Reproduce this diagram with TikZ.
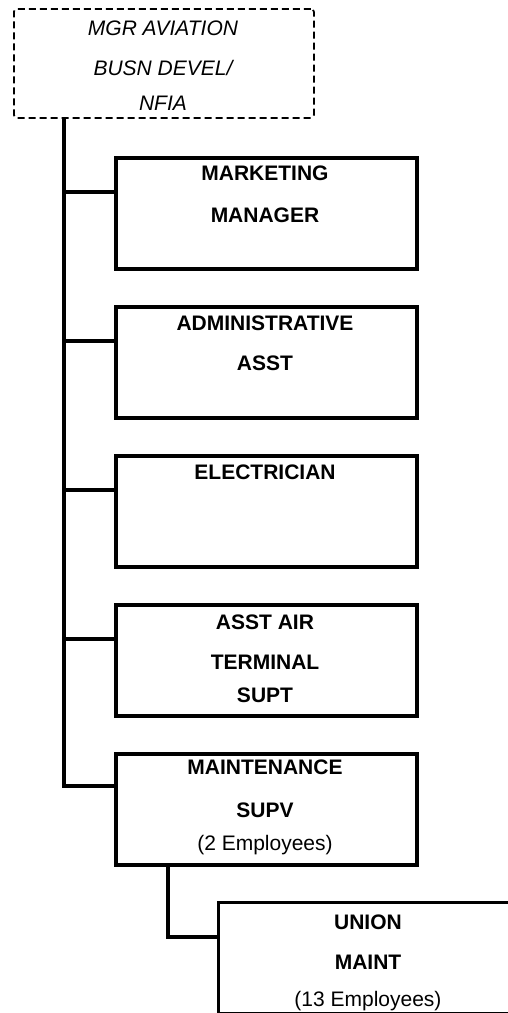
\documentclass[tikz,border=0pt]{standalone}
\usepackage{fontspec}
\setmainfont{Liberation Sans}
\begin{document}
\begin{tikzpicture}[x=1pt,y=-1pt,
  box/.style={draw, line width=3.6pt, minimum width=301pt, minimum height=111pt, inner sep=0pt, anchor=north west},
  topbox/.style={draw, line width=1.8pt, dash pattern=on 7pt off 4pt, rounded corners=3pt, minimum width=300pt, minimum height=109pt, inner sep=0pt, anchor=north west},
  conn/.style={draw, line width=3.6pt, line cap=rect},
  lb/.style={font=\fontsize{21}{21}\selectfont\bfseries, anchor=base, inner sep=0pt},
  lr/.style={font=\fontsize{21}{21}\selectfont, anchor=base, inner sep=0pt},
  li/.style={font=\fontsize{21}{21}\selectfont\itshape, anchor=base, inner sep=0pt}]
\useasboundingbox (0,0) rectangle (508,1013);
\clip (0,0) rectangle (508,1013);
\fill[white] (0,0) rectangle (508,1013);
% boxes
\node[topbox] (mgr) at (13,8) {};
\node[box] (mkt) at (114,156) {};
\node[box] (adm) at (114,305) {};
\node[box] (ele) at (114,454) {};
\node[box] (ast) at (114,603) {};
\node[box] (mnt) at (114,752) {};
\node[box, minimum width=302pt, line width=3pt] (uni) at (217,901) {};
% branch points
\coordinate (sp) at (64,0);
\coordinate (b1) at ([yshift=-36pt]mkt.north west);
\coordinate (b2) at ([yshift=-36pt]adm.north west);
\coordinate (b3) at ([yshift=-36pt]ele.north west);
\coordinate (b4) at ([yshift=-36pt]ast.north west);
\coordinate (b5) at ([yshift=-34pt]mnt.north west);
\coordinate (us) at (168,0);
\coordinate (b6) at ([yshift=-36pt]uni.north west);
% connectors
\draw[conn] (mgr.south -| sp) -- (sp |- b5) -- (b5);
\draw[conn] (sp |- b1) -- (b1);
\draw[conn] (sp |- b2) -- (b2);
\draw[conn] (sp |- b3) -- (b3);
\draw[conn] (sp |- b4) -- (b4);
\draw[conn] (mnt.south -| us) -- (us |- b6) -- (b6);
% texts
\node[li] (mgr1) at (163,35) {MGR AVIATION};
\node[li] (mgr2) at (163,75) {BUSN DEVEL/};
\node[li] (mgr3) at (163,110) {NFIA};
\node[lb] (mkt1) at (265,180.5) {MARKETING};
\node[lb] (mkt2) at (265,222) {MANAGER};
\node[lb] (adm1) at (265,330.5) {ADMINISTRATIVE};
\node[lb] (adm2) at (265,370.5) {ASST};
\node[lb] (ele1) at (265,479.5) {ELECTRICIAN};
\node[lb] (ast1) at (265,629.5) {ASST AIR};
\node[lb] (ast2) at (265,669.5) {TERMINAL};
\node[lb] (ast3) at (265,702.5) {SUPT};
\node[lb] (mnt1) at (265,774) {MAINTENANCE};
\node[lb] (mnt2) at (265,817) {SUPV};
\node[lr] (mnt3) at (265,850) {(2 Employees)};
\node[lb] (uni1) at (368,929) {UNION};
\node[lb] (uni2) at (368,969.5) {MAINT};
\node[lr] (uni3) at (368,1006) {(13 Employees)};
\end{tikzpicture}
\end{document}
